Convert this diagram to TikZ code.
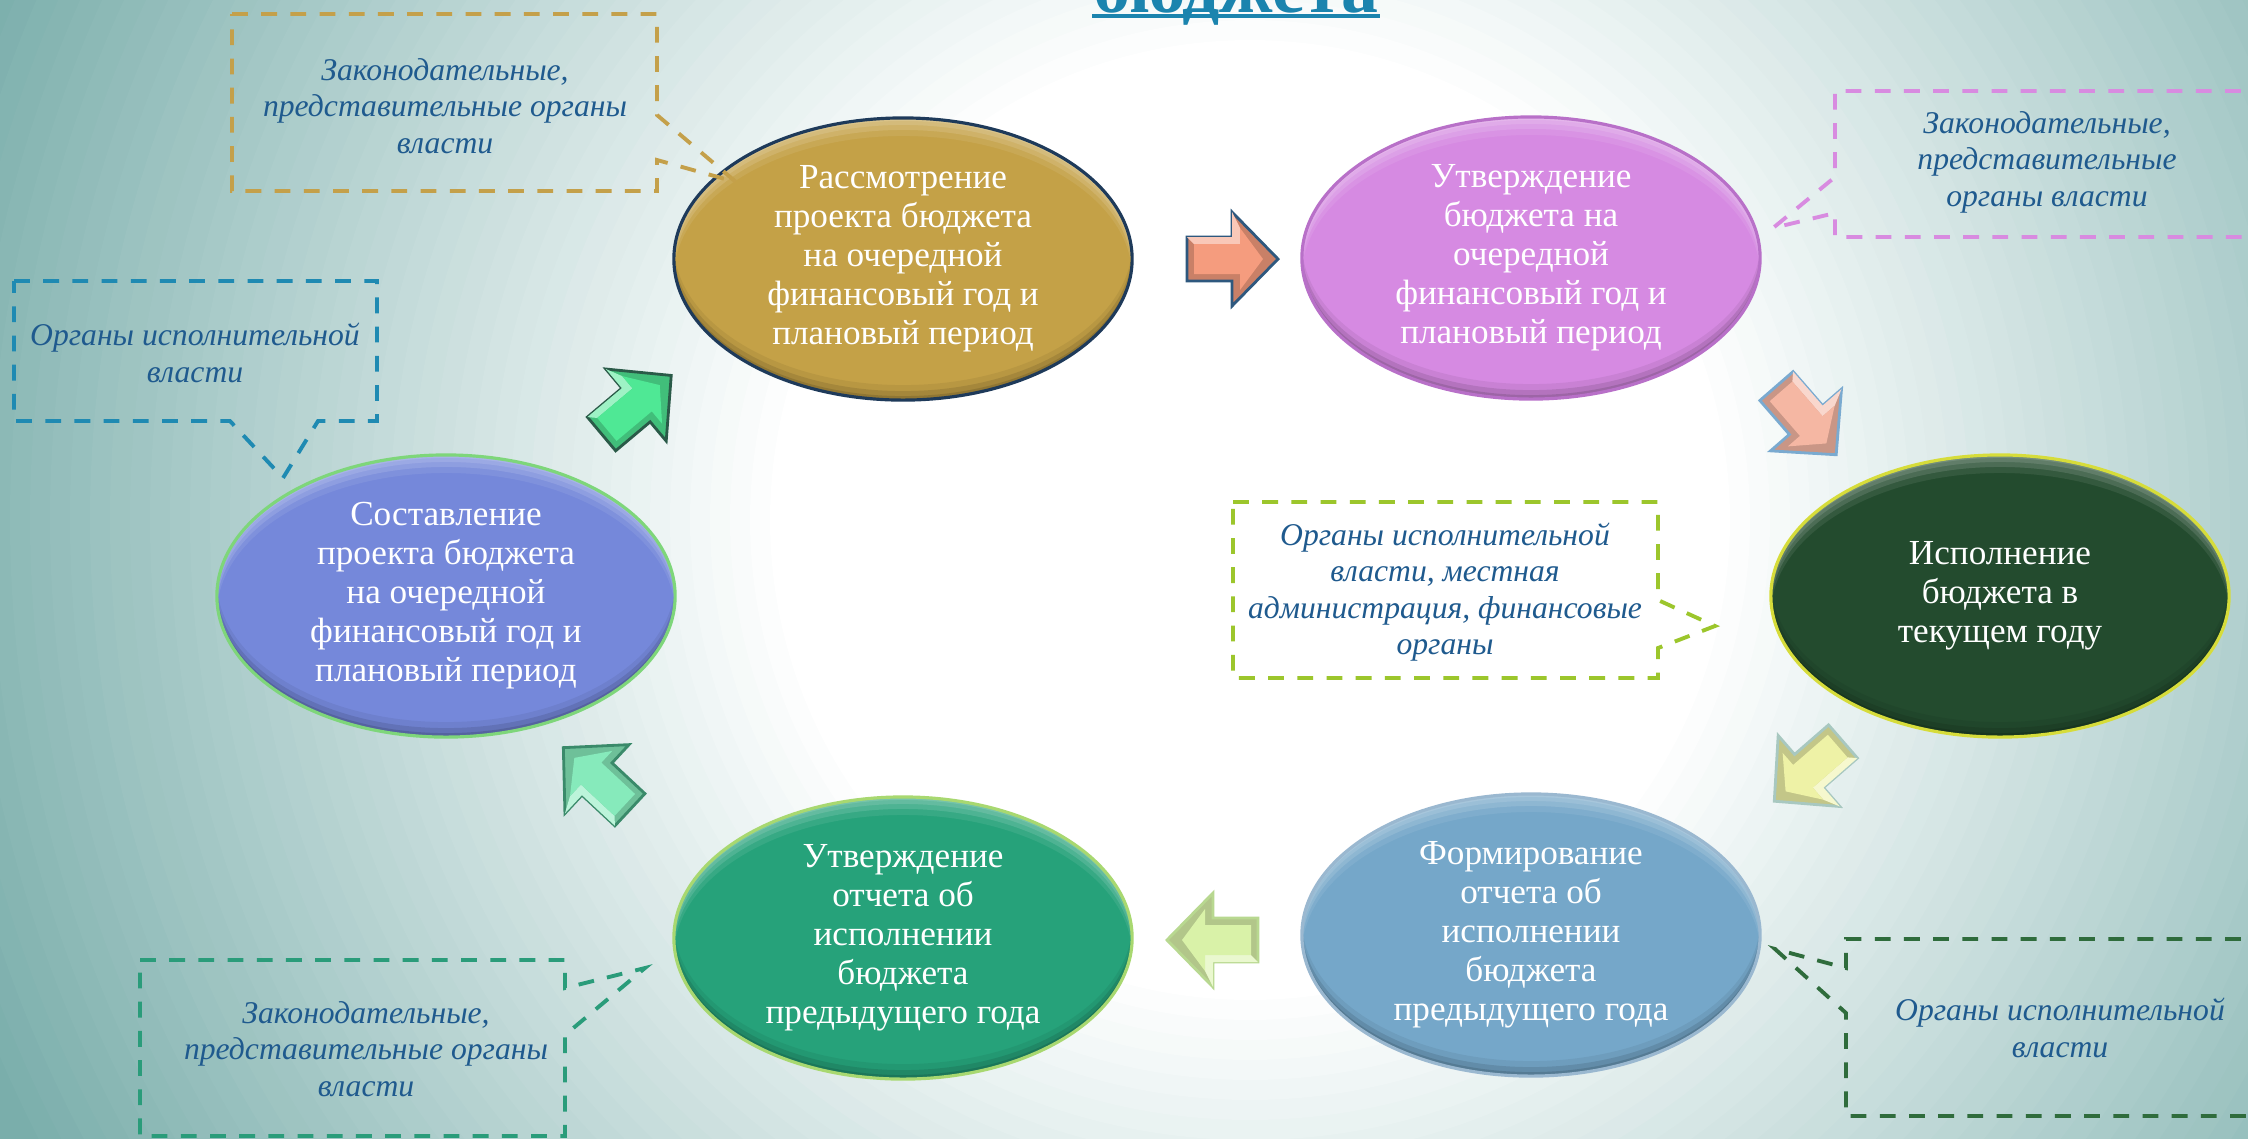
\documentclass[tikz,border=0pt]{standalone}
\usepackage{fontspec}
\setmainfont{Liberation Serif}
\usetikzlibrary{shapes.geometric,calc}
\definecolor{bgteal}{HTML}{7AAEAB}
\definecolor{gold}{HTML}{C4A147}
\definecolor{goldedge}{HTML}{1E3A5A}
\definecolor{pink}{HTML}{D68AE2}
\definecolor{pinkedge}{HTML}{B870C8}
\definecolor{dgreen}{HTML}{234B2E}
\definecolor{dgreenedge}{HTML}{D6DC3A}
\definecolor{lblue}{HTML}{75A7C9}
\definecolor{lblueedge}{HTML}{9AB8D0}
\definecolor{tealc}{HTML}{26A27A}
\definecolor{tealedge}{HTML}{A8D870}
\definecolor{peri}{HTML}{7588DA}
\definecolor{periedge}{HTML}{7ED67A}
\definecolor{notecol}{HTML}{1F5A8E}
\definecolor{titlecol}{HTML}{1B84AE}
\definecolor{cA}{HTML}{C4A04A}
\definecolor{cB}{HTML}{D88BE0}
\definecolor{cC}{HTML}{1F8AB2}
\definecolor{cD}{HTML}{9CC62C}
\definecolor{cE}{HTML}{2F6C3C}
\definecolor{cF}{HTML}{2A9C7A}
\definecolor{ar1}{HTML}{F59C7E}
\definecolor{ar1e}{HTML}{2E587E}
\definecolor{ar2}{HTML}{F5B7A3}
\definecolor{ar2e}{HTML}{7AAAD0}
\definecolor{ar3}{HTML}{EEF2A6}
\definecolor{ar3e}{HTML}{A8C8C0}
\definecolor{ar4}{HTML}{D9F2A8}
\definecolor{ar4e}{HTML}{B8D890}
\definecolor{ar5}{HTML}{86EABB}
\definecolor{ar5e}{HTML}{3A8A6A}
\definecolor{ar6}{HTML}{4FE895}
\definecolor{ar6e}{HTML}{2A5A48}
\newcommand\blockarrow[5]{%
  \begin{scope}[shift={(#1,#2)}, rotate=#3]
    \filldraw[fill=#4!82!black, draw=#5, line width=0.8pt, line join=miter]
      (-45,-22) -- (0,-22) -- (0,-47) -- (46,0) -- (0,47) -- (0,22) -- (-45,22) -- cycle;
    \fill[#4!55!white] (-45,-22) -- (0,-22) -- (0,-47) -- (8,-31) -- (8,-15) -- (-38,-15) -- cycle;
    \fill[#4] (-38,-15) -- (8,-15) -- (8,-31) -- (31,0) -- (8,31) -- (8,15) -- (-38,15) -- cycle;
  \end{scope}}
\newcommand\ringfill[3]{% color, opacity, yshift
  \fill[#1,opacity=#2,even odd rule] (path picture bounding box.center) ellipse [x radius=2.29cm,y radius=1.41cm] ([yshift=#3]path picture bounding box.center) ellipse [x radius=2.29cm,y radius=1.41cm];}
\tikzset{
  stage/.style={ellipse, minimum width=4.58cm, minimum height=2.82cm, inner sep=0pt,
    text=white, font=\fontsize{10}{11.1}\selectfont, align=center, line width=0.9pt,
    path picture={
      \ringfill{white}{0.12}{-0.03cm}
      \ringfill{white}{0.12}{-0.07cm}
      \ringfill{white}{0.12}{-0.12cm}
      \ringfill{white}{0.08}{-0.18cm}
      \ringfill{black}{0.12}{0.04cm}
      \ringfill{black}{0.10}{0.09cm}
      \ringfill{black}{0.06}{0.15cm}
    }},
  note/.style={text=notecol, font=\fontsize{9}{10.4}\selectfont\itshape, align=center, inner sep=0pt},
  callout/.style={dash pattern=on 4.5pt off 3.8pt, line width=1.1pt, line join=miter}
}
\begin{document}
\begin{tikzpicture}[x=0.01cm, y=-0.01cm]
\path[use as bounding box] (0,0) rectangle (2248,1138);
\clip (0,0) rectangle (2248,1138);
% background: radial gradient built from rings
\coordinate (bgc) at (1250,520);
\foreach \r in {1440,1420,...,10} {
  \pgfmathsetmacro\w{max(0,min(100,100*(1-(\r-480)/900)))}
  \fill[white!\w!bgteal] (bgc) circle (\r);
}

% title
\node[font=\fontsize{21}{21}\selectfont\bfseries, text=titlecol, anchor=base, inner sep=0pt] (title) at (1236,12) {бюджета};
\draw[titlecol, line width=1pt] ([yshift=-1.2pt]title.base west) -- ([yshift=-1.2pt]title.base east);

% stages
\node[stage, fill=gold, draw=goldedge] (s1) at (903,259) {Рассмотрение\\проекта бюджета\\на очередной\\финансовый год и\\плановый период};
\node[stage, fill=pink, draw=pinkedge] (s2) at (1531,258) {Утверждение\\бюджета на\\очередной\\финансовый год и\\плановый период};
\node[stage, fill=dgreen, draw=dgreenedge] (s3) at (2000,596) {Исполнение\\бюджета в\\текущем году};
\node[stage, fill=lblue, draw=lblueedge] (s4) at (1531,935) {Формирование\\отчета об\\исполнении\\бюджета\\предыдущего года};
\node[stage, fill=tealc, draw=tealedge] (s5) at (903,938) {Утверждение\\отчета об\\исполнении\\бюджета\\предыдущего года};
\node[stage, fill=peri, draw=periedge] (s6) at (446,596) {Составление\\проекта бюджета\\на очередной\\финансовый год и\\плановый период};

% block arrows
\blockarrow{1232}{259}{0}{ar1}{ar1e}
\blockarrow{1806}{420}{-49}{ar2}{ar2e}
\blockarrow{1809}{771}{-139}{ar3}{ar3e}
\blockarrow{1213}{940}{180}{ar4}{ar4e}
\blockarrow{597}{779}{137}{ar5}{ar5e}
\blockarrow{636}{405}{40}{ar6}{ar6e}

% callouts
\draw[callout, cA] (232,14) -- (657,14) -- (657,115) -- (736,182) -- (657,160) -- (657,191) -- (232,191) -- cycle;
\node[note] (nA) at (445,106) {Законодательные,\\представительные органы\\власти};

\draw[callout, cB] (2270,91) -- (1835,91) -- (1835,177) -- (1773,228) -- (1835,213) -- (1835,237) -- (2270,237);
\node[note] (nB) at (2047,162) {Законодательные,\\представительные\\органы власти};

\draw[callout, cC] (14,281) -- (377,281) -- (377,421) -- (318,421) -- (283,478) -- (230,421) -- (14,421) -- cycle;
\node[note] (nC) at (195,353) {Органы исполнительной\\власти};

\draw[callout, cD] (1233,502) -- (1658,502) -- (1658,600) -- (1715,626) -- (1658,648) -- (1658,678) -- (1233,678) -- cycle;
\node[note] (nD) at (1445,592) {Органы исполнительной\\власти, местная\\администрация, финансовые\\органы};

\draw[callout, cE] (2270,939) -- (1846,939) -- (1846,968) -- (1775,949) -- (1846,1013) -- (1846,1116) -- (2270,1116);
\node[note] (nE) at (2060,1028) {Органы исполнительной\\власти};

\draw[callout, cF] (140,960) -- (565,960) -- (565,988) -- (645,968) -- (565,1035) -- (565,1136) -- (140,1136) -- cycle;
\node[note] (nF) at (366,1049) {Законодательные,\\представительные органы\\власти};
\end{tikzpicture}
\end{document}
